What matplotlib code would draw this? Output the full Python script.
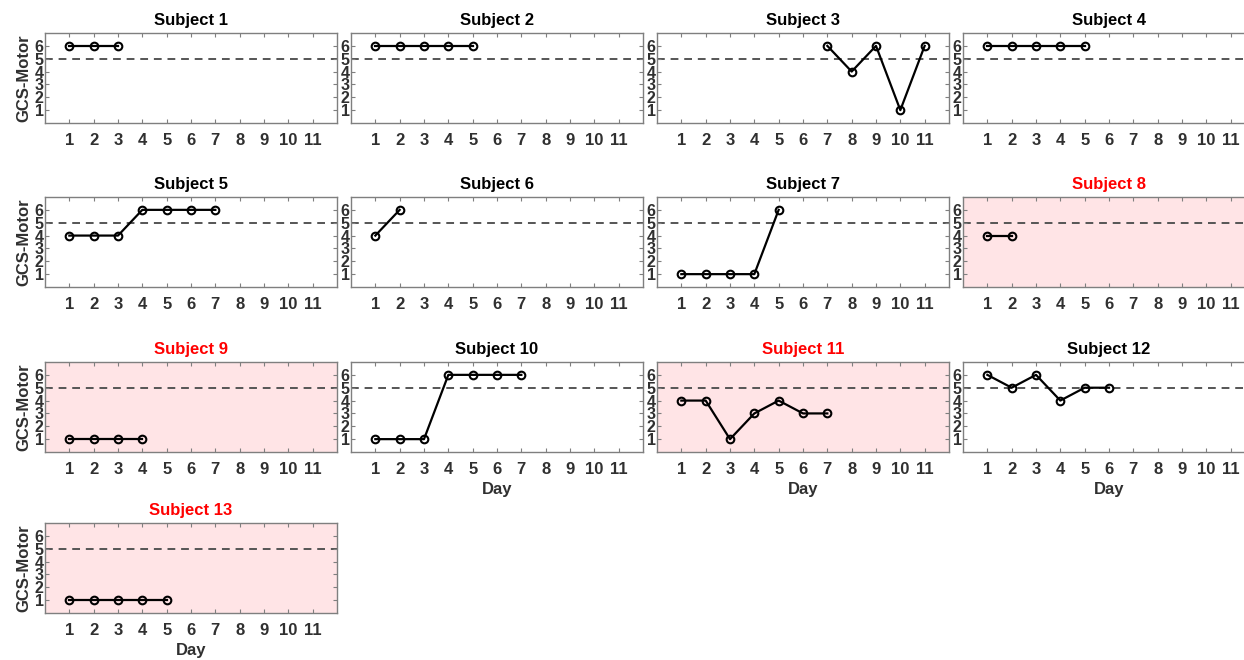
import matplotlib
matplotlib.use("Agg")
import matplotlib.pyplot as plt

plt.rcParams['font.family'] = ['Liberation Sans', 'DejaVu Sans']
plt.rcParams['font.weight'] = 'bold'

subjects = ["Subject 1", "Subject 2", "Subject 3", "Subject 4", "Subject 5", "Subject 6",
            "Subject 7", "Subject 8", "Subject 9", "Subject 10", "Subject 11", "Subject 12",
            "Subject 13"]
days = [
    [1, 2, 3],
    [1, 2, 3, 4, 5],
    [7, 8, 9, 10, 11],
    [1, 2, 3, 4, 5],
    [1, 2, 3, 4, 5, 6, 7],
    [1, 2],
    [1, 2, 3, 4, 5],
    [1, 2],
    [1, 2, 3, 4],
    [1, 2, 3, 4, 5, 6, 7],
    [1, 2, 3, 4, 5, 6, 7],
    [1, 2, 3, 4, 5, 6],
    [1, 2, 3, 4, 5],
]
gcs = [
    [6, 6, 6],
    [6, 6, 6, 6, 6],
    [6, 4, 6, 1, 6],
    [6, 6, 6, 6, 6],
    [4, 4, 4, 6, 6, 6, 6],
    [4, 6],
    [1, 1, 1, 1, 6],
    [4, 4],
    [1, 1, 1, 1],
    [1, 1, 1, 6, 6, 6, 6],
    [4, 4, 1, 3, 4, 3, 3],
    [6, 5, 6, 4, 5, 5],
    [1, 1, 1, 1, 1],
]
highlighted = [False, False, False, False, False, False, False, True, True, False, True, False, True]
threshold = 5
xticks = list(range(1, 12))
yticks = list(range(1, 7))
day_label_idx = [9, 10, 11, 12]

W, H = 1244, 660
fig = plt.figure(figsize=(W / 100, H / 100), dpi=100)

col_left = [45, 351, 657, 963]
col_w = 292
row_top = [33, 197, 362, 523]
row_h = 90

tick_col = '#303030'
spine_col = '#7f7f7f'

for i, name in enumerate(subjects):
    r, c = divmod(i, 4)
    x0 = col_left[c] / W
    y0 = 1 - (row_top[r] + row_h) / H
    ax = fig.add_axes([x0, y0, col_w / W, row_h / H])
    if highlighted[i]:
        ax.set_facecolor('#ffe4e6')
    ax.axhline(threshold, color='#555555', linestyle=(0, (4, 3)), linewidth=1.4, zorder=1)
    ax.plot(days[i], gcs[i], color='black', linewidth=1.6, marker='o', markersize=5.5,
            markerfacecolor='none', markeredgecolor='black', markeredgewidth=1.5, zorder=3)
    ax.set_xlim(0, 12)
    ax.set_ylim(0, 7)
    ax.set_xticks(xticks)
    ax.set_yticks(yticks)
    ax.tick_params(axis='both', direction='in', length=3, width=0.8, color=spine_col,
                   labelcolor=tick_col, top=True, right=True)
    ax.tick_params(axis='x', pad=7, labelsize=12)
    ax.tick_params(axis='y', pad=1, labelsize=11.5)
    for lbl in ax.get_xticklabels() + ax.get_yticklabels():
        lbl.set_fontweight('bold')
    for s in ax.spines.values():
        s.set_color(spine_col)
        s.set_linewidth(1.0)
    ax.set_title(name, fontsize=12, fontweight='bold',
                 color='red' if highlighted[i] else 'black', pad=6)
    if c == 0:
        ax.set_ylabel('GCS-Motor', fontsize=12, fontweight='bold', color=tick_col, labelpad=2)
    if i in day_label_idx:
        ax.set_xlabel('Day', fontsize=12, fontweight='bold', color=tick_col, labelpad=4)

fig.savefig('out.png', dpi=100)
